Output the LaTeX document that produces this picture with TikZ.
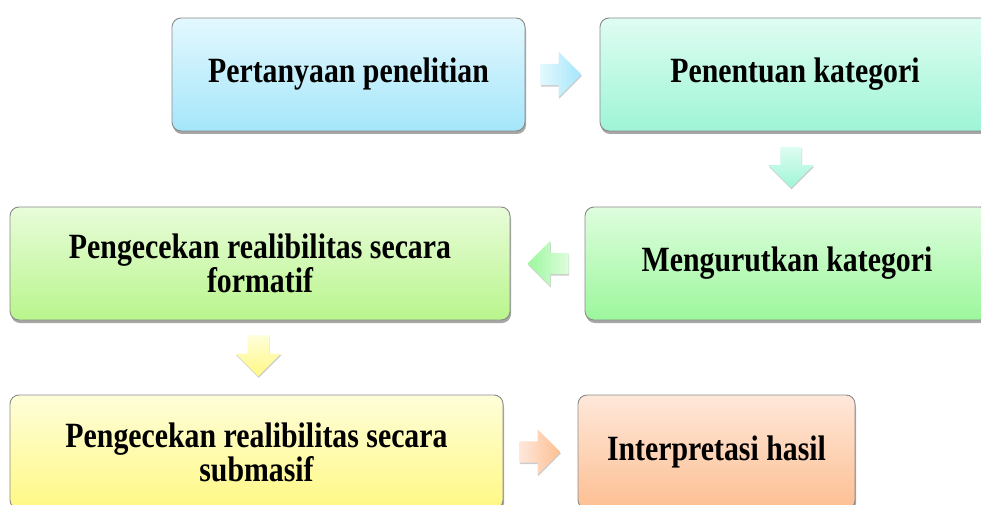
\documentclass[tikz,border=0pt]{standalone}
\usepackage{fontspec}
\setmainfont[FakeStretch=0.84]{Liberation Serif}
\usetikzlibrary{shapes.arrows,shadows,calc}
\definecolor{aT}{HTML}{E3F8FE}\definecolor{aB}{HTML}{A5E6FA}
\definecolor{bT}{HTML}{DFFDF2}\definecolor{bB}{HTML}{9EF5D6}
\definecolor{cT}{HTML}{DEFDDE}\definecolor{cB}{HTML}{9CF79C}
\definecolor{dT}{HTML}{E8FCD9}\definecolor{dB}{HTML}{B9F58C}
\definecolor{eT}{HTML}{FEFED9}\definecolor{eB}{HTML}{FFF884}
\definecolor{fT}{HTML}{FEE8DA}\definecolor{fB}{HTML}{FDBF92}
\definecolor{edge}{HTML}{8A8A8A}
\tikzset{
  stepbox/.style={rectangle, rounded corners=9pt, draw=edge, line width=0.9pt,
    align=center, font=\fontsize{35.5}{30.5}\selectfont\bfseries, text=black,
    drop shadow={shadow xshift=1pt, shadow yshift=-3pt, opacity=0.35, fill=black}},
  flowarrow/.style={single arrow, draw=none, minimum height=41pt, minimum width=45pt,
    single arrow head extend=12pt, single arrow head indent=0pt, inner sep=10.5pt,
    drop shadow={shadow xshift=0.5pt, shadow yshift=-1.5pt, opacity=0.2, fill=black}},
}
\begin{document}
\begin{tikzpicture}[x=1pt,y=-1pt]
\useasboundingbox (0,0) rectangle (981,505);
\node[stepbox, top color=aT, bottom color=aB, minimum width=353pt, minimum height=113pt] (b1) at (348.5,74.5) {Pertanyaan penelitian};
\node[stepbox, top color=bT, bottom color=bB, minimum width=390pt, minimum height=113pt] (b2) at (795,74.5) {Penentuan kategori};
\node[stepbox, top color=cT, bottom color=cB, minimum width=404pt, minimum height=113pt] (b3) at (787,263.5) {Mengurutkan kategori};
\node[stepbox, top color=dT, bottom color=dB, minimum width=500pt, minimum height=113pt] (b4) at (260,263.5) {Pengecekan realibilitas secara\\formatif};
\node[stepbox, top color=eT, bottom color=eB, minimum width=493pt, minimum height=114pt] (b5) at (256.5,452) {Pengecekan realibilitas secara\\submasif};
\node[stepbox, top color=fT, bottom color=fB, minimum width=277pt, minimum height=114pt] (b6) at (716.5,452) {Interpretasi hasil};
\node[flowarrow, left color=aT, right color=aB, xshift=-7pt] (a1) at ($(b1.east)!0.5!(b2.west)$) {};
\node[flowarrow, top color=bT, bottom color=bB, shape border rotate=270, yshift=7pt] (a2) at ($(b2.south)!0.5!(b3.north)$) {};
\node[flowarrow, left color=cB, right color=cT, shape border rotate=180, xshift=6pt] (a3) at ($(b3.west)!0.5!(b4.east)$) {};
\node[flowarrow, top color=eT, bottom color=eB, shape border rotate=270, yshift=7pt] (a4) at ($(b4.south)!0.5!(b5.north)$) {};
\node[flowarrow, left color=fT, right color=fB, xshift=-6pt] (a5) at ($(b5.east)!0.5!(b6.west)$) {};
\end{tikzpicture}
\end{document}
